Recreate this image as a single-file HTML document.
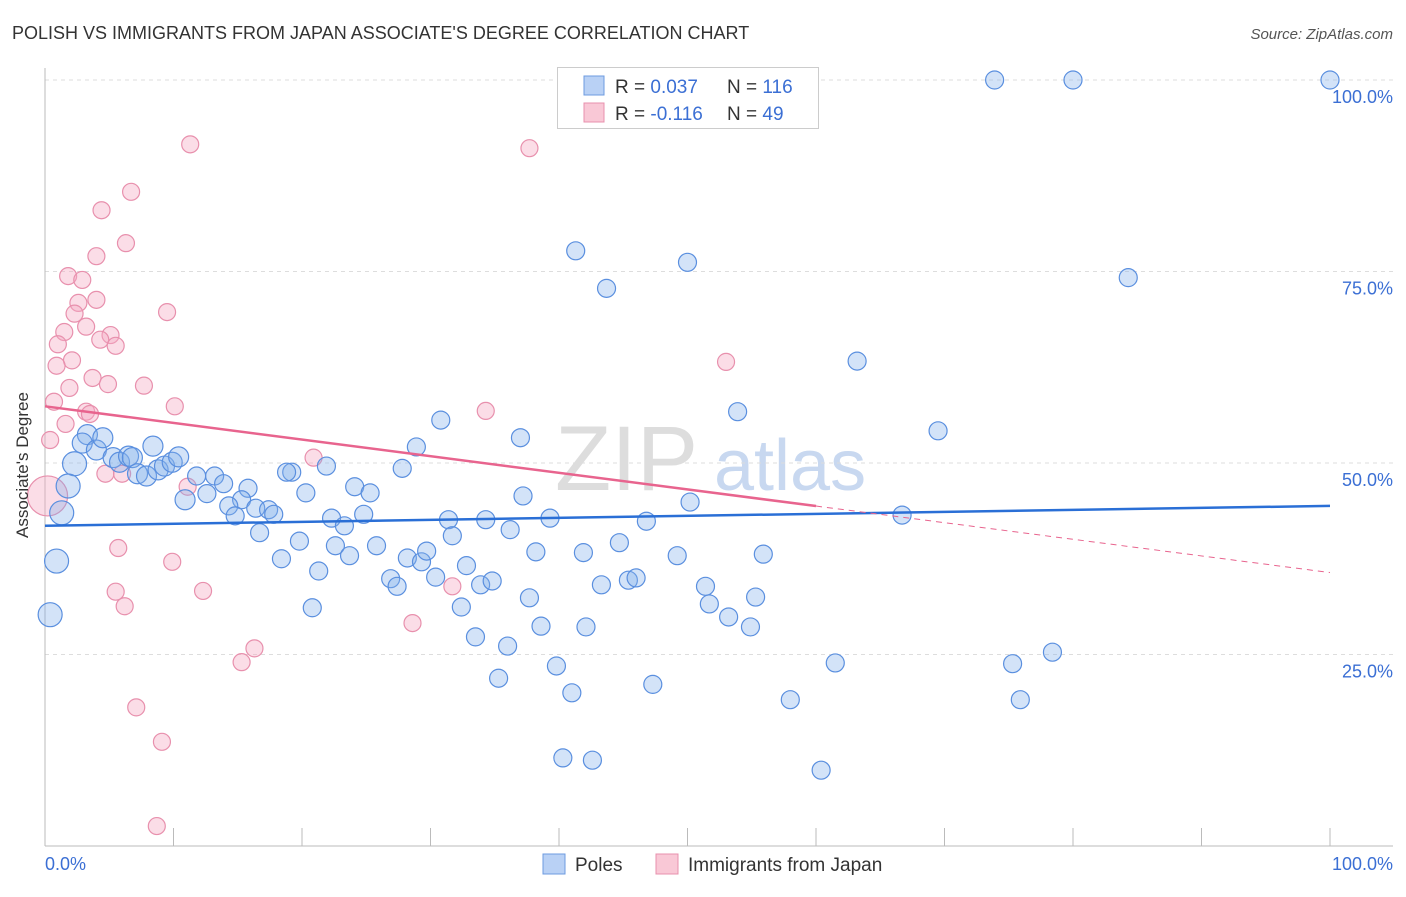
<!DOCTYPE html>
<html><head><meta charset="utf-8"><style>
body{margin:0;background:#fff;font-family:"Liberation Sans",sans-serif;}
svg text{font-family:"Liberation Sans",sans-serif;}
</style></head><body>
<svg id="c" width="1406" height="892" xmlns="http://www.w3.org/2000/svg">
<text x="12" y="39" font-size="18" fill="#333">POLISH VS IMMIGRANTS FROM JAPAN ASSOCIATE'S DEGREE CORRELATION CHART</text>
<text x="1393" y="39" font-size="15" fill="#555" font-style="italic" text-anchor="end">Source: ZipAtlas.com</text>
<g>
<text x="555" y="490" font-size="92" fill="#ddd" font-family="Liberation Serif">ZIP</text>
<text x="714" y="490" font-size="72" fill="#c8d8f0">atlas</text>
</g>
<g id="grid"></g>
<g id="axes"></g>
<g id="pts"></g>
<g id="lines"></g>
<text x="18" y="455" font-size="17" fill="#333" text-anchor="middle" transform="rotate(-90 28 455)">Associate's Degree</text>
<text x="45" y="870" font-size="18" fill="#3b6fd4">0.0%</text>
<text x="1393" y="870" font-size="18" fill="#3b6fd4" text-anchor="end">100.0%</text>
<g>
<rect x="557.5" y="67.5" width="261" height="61" fill="#fff" stroke="#ccc"/>
<rect x="584" y="76" width="20" height="19" fill="#b9d1f5" stroke="#6d9be0"/>
<rect x="584" y="103" width="20" height="19" fill="#f9c8d6" stroke="#e890ad"/>
<text x="615" y="93" font-size="19" fill="#333">R = <tspan fill="#3b6fd4">0.037</tspan></text>
<text x="727" y="93" font-size="19" fill="#333">N = <tspan fill="#3b6fd4">116</tspan></text>
<text x="615" y="120" font-size="19" fill="#333">R = <tspan fill="#3b6fd4">-0.116</tspan></text>
<text x="727" y="120" font-size="19" fill="#333">N = <tspan fill="#3b6fd4"> 49</tspan></text>
</g>
<g>
<rect x="543" y="854" width="22" height="20" fill="#b9d1f5" stroke="#6d9be0"/>
<text x="575" y="871" font-size="19" fill="#333">Poles</text>
<rect x="656" y="854" width="22" height="20" fill="#f9c8d6" stroke="#e890ad"/>
<text x="688" y="871" font-size="19" fill="#333">Immigrants from Japan</text>
</g>
</svg>
<script>
const yTicks=[25,50,75,100];
const yTickLabels=["25.0%","50.0%","75.0%","100.0%"];
const xTicks=[10,20,30,40,50,60,70,80,90,100];
const polesX=[73.9,80.0,100,41.3,50.0,43.7,84.3,63.2,53.9,69.5,30.8,37.0,28.9,27.8,21.9,19.2,18.8,15.8,11.8,13.2,13.9,10.9,12.6,15.3,16.4,14.3,14.8,17.4,17.8,20.3,24.1,25.3,16.7,19.8,22.3,23.3,24.8,22.6,23.7,25.8,18.4,21.3,20.8,28.2,29.3,29.7,26.9,27.4,30.4,31.4,31.7,32.8,32.4,33.5,34.3,33.9,34.8,36.2,37.2,38.2,39.3,37.7,38.6,36.0,35.3,39.8,41.0,40.3,42.6,41.9,42.1,43.3,44.7,45.4,46.0,46.8,49.2,47.3,50.2,51.4,51.7,53.2,54.9,55.3,55.9,58.0,60.4,61.5,66.7,75.3,75.9,78.4,3.3,2.9,4.0,4.5,5.3,5.8,6.5,6.8,7.2,7.9,8.4,8.8,9.3,9.9,10.4,2.3,1.8,1.3,0.9,0.4];
const polesY=[100,100,100,77.7,76.2,72.8,74.2,63.3,56.7,54.2,55.6,53.3,52.1,49.3,49.6,48.8,48.8,46.7,48.3,48.3,47.3,45.2,46.0,45.2,44.1,44.4,43.1,43.9,43.3,46.1,46.9,46.1,40.9,39.8,42.8,41.8,43.3,39.2,37.9,39.2,37.5,35.9,31.1,37.6,37.1,38.5,34.9,33.9,35.1,42.6,40.5,36.6,31.2,27.3,42.6,34.1,34.6,41.3,45.7,38.4,42.8,32.4,28.7,26.1,21.9,23.5,20.0,11.5,11.2,38.3,28.6,34.1,39.6,34.7,35.0,42.4,37.9,21.1,44.9,33.9,31.6,29.9,28.6,32.5,38.1,19.1,9.9,23.9,43.2,23.8,19.1,25.3,53.7,52.6,51.7,53.3,50.7,50.1,50.9,50.7,48.6,48.3,52.2,49.1,49.6,50.1,50.8,49.9,47.0,43.5,37.2,30.2];
const japanX=[11.3,37.7,6.7,4.4,6.3,4.0,1.8,2.9,4.0,2.6,9.5,2.3,1.5,3.2,5.1,4.3,5.5,1.0,2.1,0.9,1.9,3.7,4.9,7.7,0.7,3.2,3.5,10.1,34.3,53.0,0.4,20.9,4.7,6.0,11.1,5.7,9.9,5.5,12.3,6.2,28.6,31.7,16.3,15.3,7.1,9.1,8.7,0.2,1.6];
const japanY=[91.6,91.1,85.4,83.0,78.7,77.0,74.4,73.9,71.3,70.9,69.7,69.5,67.1,67.8,66.7,66.1,65.3,65.5,63.4,62.7,59.8,61.1,60.3,60.1,58.0,56.7,56.4,57.4,56.8,63.2,53.0,50.7,48.6,48.6,46.9,38.9,37.1,33.2,33.3,31.3,29.1,33.9,25.8,24.0,18.1,13.6,2.6,45.7,55.1];
const polesTrend=[41.8,44.4];
const japanTrend=[57.4,35.7];
const japanSolidEnd=60;
const X0=45,X1=1330,Y0=846,Y100=80;
const sx=v=>X0+(X1-X0)*v/100, sy=v=>Y0-(Y0-Y100)*v/100;
const NS="http://www.w3.org/2000/svg";
function mk(tag,attrs,parent){const e=document.createElementNS(NS,tag);for(const k in attrs)e.setAttribute(k,attrs[k]);document.getElementById(parent).appendChild(e);return e;}
yTicks.forEach((t,i)=>{
 const l=mk('line',{x1:X0,x2:1393,y1:sy(t),y2:sy(t),stroke:'#ddd','stroke-dasharray':'4 4'},'grid');
 
 
 const tx=mk('text',{x:1393,y:sy(t)+23,'font-size':18,fill:'#3b6fd4','text-anchor':'end'},'grid');
 tx.textContent=yTickLabels[i];
 
 
});
let a=mk('line',{x1:X0,x2:X0,y1:68,y2:Y0,stroke:'#bbb'},'axes');


a=mk('line',{x1:X0,x2:1393,y1:Y0,y2:Y0,stroke:'#bbb'},'axes');


xTicks.forEach(t=>{
 const l=mk('line',{x1:sx(t),x2:sx(t),y1:Y0,y2:Y0-18,stroke:'#bbb'},'axes');
 
 
});
japanX.forEach((x,i)=>{
 const r=i===47?20:8.5;
 const c=mk('circle',{cx:sx(x),cy:sy(japanY[i]),r:r,fill:'rgba(245,170,195,0.4)',stroke:'#e890ad','stroke-width':1.2},'pts');
 
 
});
polesX.forEach((x,i)=>{
 const r=(x<2.5)?12:(x<11?10:9);
 const c=mk('circle',{cx:sx(x),cy:sy(polesY[i]),r:r,fill:'rgba(130,175,235,0.35)',stroke:'#5a8fdf','stroke-width':1.2},'pts');
 
 
});
let ln=mk('line',{x1:sx(0),y1:sy(polesTrend[0]),x2:sx(100),y2:sy(polesTrend[1]),stroke:'#2a6fd6','stroke-width':2.5},'lines');


const jm=v=>japanTrend[0]+(japanTrend[1]-japanTrend[0])*v/100;
ln=mk('line',{x1:sx(0),y1:sy(jm(0)),x2:sx(japanSolidEnd),y2:sy(jm(japanSolidEnd)),stroke:'#e8648e','stroke-width':2.5},'lines');


ln=mk('line',{x1:sx(japanSolidEnd),y1:sy(jm(japanSolidEnd)),x2:sx(100),y2:sy(jm(100)),stroke:'#e8648e','stroke-width':1,'stroke-dasharray':'6 5'},'lines');


</script>
</body></html>
